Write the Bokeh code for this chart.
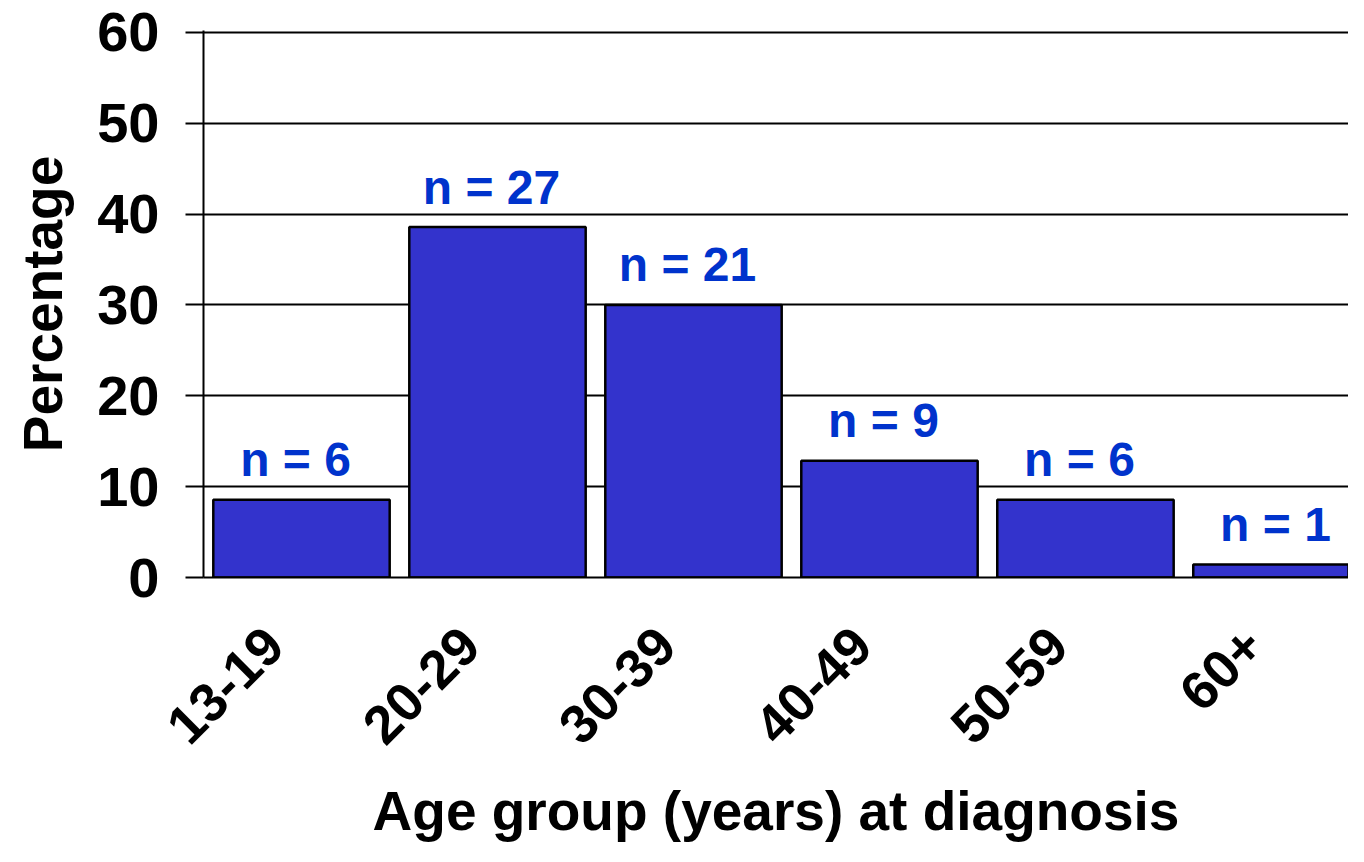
import math
from bokeh.plotting import figure
from bokeh.models import Range1d, FixedTicker, ColumnDataSource
from bokeh.core.properties import value
from bokeh.embed import file_html
from bokeh.resources import INLINE

categories = ["13-19", "20-29", "30-39", "40-49", "50-59", "60+"]
counts = [6, 27, 21, 9, 6, 1]
percentages = [8.57, 38.57, 30.0, 12.86, 8.57, 1.43]
labels = ["n = %d" % c for c in counts]
y_ticks = [0, 10, 20, 30, 40, 50, 60]

FONT = "Liberation Sans"
x_pos = [i + 0.5 for i in range(len(categories))]
LABEL_SHIFT = 0.14  # nudges the rotated category labels so they end left of the bar centre
tick_pos = [x - LABEL_SHIFT for x in x_pos]

src = ColumnDataSource(dict(x=x_pos, top=percentages, label=labels))

p = figure(width=1348, height=846, output_backend="svg", toolbar_location=None,
           x_range=Range1d(0, 5.842), y_range=Range1d(0, 60.2))
p.outline_line_color = None
p.min_border_right = 0
p.min_border_top = 30
p.min_border_left = 203
p.min_border_bottom = 269

p.vbar(x="x", top="top", width=0.9, source=src, fill_color="#3333CC",
       line_color="black", line_width=2.5)
p.text(x="x", y="top", text="label", source=src, text_align="center",
       text_baseline="alphabetic", y_offset=-40, x_offset=-6, text_color="#0033CC",
       text_font=value(FONT), text_font_style="bold", text_font_size="48px")

p.xgrid.grid_line_color = None
p.ygrid.grid_line_color = "black"
p.ygrid.grid_line_width = 2
p.ygrid.ticker = FixedTicker(ticks=y_ticks)

yax = p.yaxis[0]
yax.ticker = FixedTicker(ticks=y_ticks)
yax.axis_line_width = 2
yax.major_tick_line_width = 2
yax.major_tick_out = 18
yax.major_tick_in = 0
yax.minor_tick_line_color = None
yax.major_label_text_font = FONT
yax.major_label_text_font_style = "bold"
yax.major_label_text_font_size = "56px"
yax.major_label_text_color = "black"
yax.major_label_standoff = 26
yax.axis_label = "Percentage"
yax.axis_label_text_font = FONT
yax.axis_label_text_font_style = "bold"
yax.axis_label_text_font_size = "55px"
yax.axis_label_text_color = "black"
yax.axis_label_standoff = 20

xax = p.xaxis[0]
xax.ticker = FixedTicker(ticks=tick_pos)
xax.major_label_overrides = {x: c for x, c in zip(tick_pos, categories)}
xax.axis_line_width = 2
xax.major_tick_line_color = None
xax.minor_tick_line_color = None
xax.major_label_orientation = math.pi / 4
xax.major_label_text_font = FONT
xax.major_label_text_font_style = "bold"
xax.major_label_text_font_size = "54px"
xax.major_label_text_color = "black"
xax.major_label_standoff = 53
xax.axis_label = "Age group (years) at diagnosis"
xax.axis_label_text_font = FONT
xax.axis_label_text_font_style = "bold"
xax.axis_label_text_font_size = "55px"
xax.axis_label_text_color = "black"
xax.axis_label_standoff = 17

open("out.html", "w").write(file_html(p, INLINE))
